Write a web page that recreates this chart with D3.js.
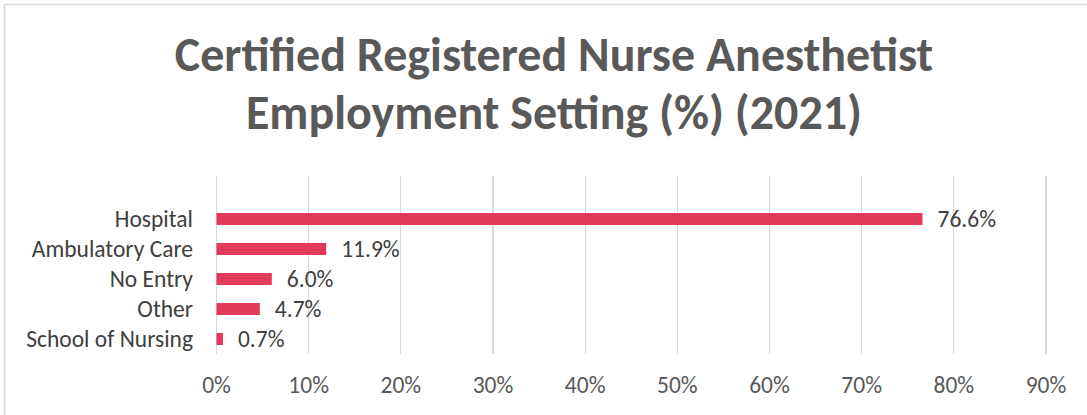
<!DOCTYPE html>
<meta charset="utf-8">
<style type="text/css">
	body {
		margin: 0;
		background: #fff;
		font-family: Carlito, Calibri, Lato, sans-serif;
	}

	.grid line {
		stroke: #d9d9d9;
		stroke-width: 1.3px;
		shape-rendering: crispEdges;
	}

	.title {
		fill: #595959;
		font-weight: bold;
		font-size: 48px;
	}

	.cat-label, .val-label {
		fill: #404040;
		font-size: 23.5px;
	}

	.tick-label {
		fill: #595959;
		font-size: 23.5px;
	}

	.bar {
		fill: #e23b5a;
	}
</style>

<body>
<div class="g-chart"></div>
</body>

<script src="https://d3js.org/d3.v7.min.js"></script>

<script>
  //Data
  var categories = ["Hospital", "Ambulatory Care", "No Entry", "Other", "School of Nursing"];
  var values = [76.6, 11.9, 6.0, 4.7, 0.7];
  var ticks = [0, 10, 20, 30, 40, 50, 60, 70, 80, 90];
  var titleLines = ["Certified Registered Nurse Anesthetist", "Employment Setting (%) (2021)"];

  var width = 1087, height = 415;

  var svg = d3.select(".g-chart").append("svg")
    .attr("width", width)
    .attr("height", height);

  //chart frame (only top and left are visible)
  svg.append("rect")
    .attr("x", 4.5)
    .attr("y", 4.5)
    .attr("width", width + 10)
    .attr("height", height + 10)
    .style("fill", "none")
    .style("stroke", "#d9d9d9")
    .style("stroke-width", 1.5);

  //Title
  svg.selectAll("text.title")
    .data(titleLines)
    .enter()
    .append("text")
    .attr("class", "title")
    .attr("x", 554)
    .attr("y", function(d, i) { return 71 + i * 58; })
    .attr("text-anchor", "middle")
    .text(function(d) { return d; });

  //Scales
  var xScale = d3.scaleLinear()
    .domain([0, 90])
    .range([216.5, 1046]);

  var yScale = d3.scaleBand()
    .domain(categories)
    .range([204, 354])
    .paddingInner(0.6)
    .paddingOuter(0.3);

  //Gridlines
  svg.append("g")
    .attr("class", "grid")
    .selectAll("line")
    .data(ticks)
    .enter()
    .append("line")
    .attr("x1", function(d) { return xScale(d); })
    .attr("x2", function(d) { return xScale(d); })
    .attr("y1", 176)
    .attr("y2", 354);

  //Tick labels
  svg.selectAll("text.tick-label")
    .data(ticks)
    .enter()
    .append("text")
    .attr("class", "tick-label")
    .attr("x", function(d) { return xScale(d); })
    .attr("y", 385)
    .attr("dy", "0.35em")
    .attr("text-anchor", "middle")
    .text(function(d) { return d + "%"; });

  //Bars
  svg.selectAll("rect.bar")
    .data(values)
    .enter()
    .append("rect")
    .attr("class", "bar")
    .attr("x", xScale(0))
    .attr("y", function(d, i) { return yScale(categories[i]); })
    .attr("width", function(d) { return xScale(d) - xScale(0); })
    .attr("height", yScale.bandwidth());

  //Category labels
  svg.selectAll("text.cat-label")
    .data(categories)
    .enter()
    .append("text")
    .attr("class", "cat-label")
    .attr("x", 193)
    .attr("y", function(d) { return yScale(d) + yScale.bandwidth() / 2; })
    .attr("dy", "0.35em")
    .attr("text-anchor", "end")
    .text(function(d) { return d; });

  //Value labels
  svg.selectAll("text.val-label")
    .data(values)
    .enter()
    .append("text")
    .attr("class", "val-label")
    .attr("x", function(d) { return xScale(d) + 15; })
    .attr("y", function(d, i) { return yScale(categories[i]) + yScale.bandwidth() / 2; })
    .attr("dy", "0.35em")
    .text(function(d) { return d.toFixed(1) + "%"; });
</script>
